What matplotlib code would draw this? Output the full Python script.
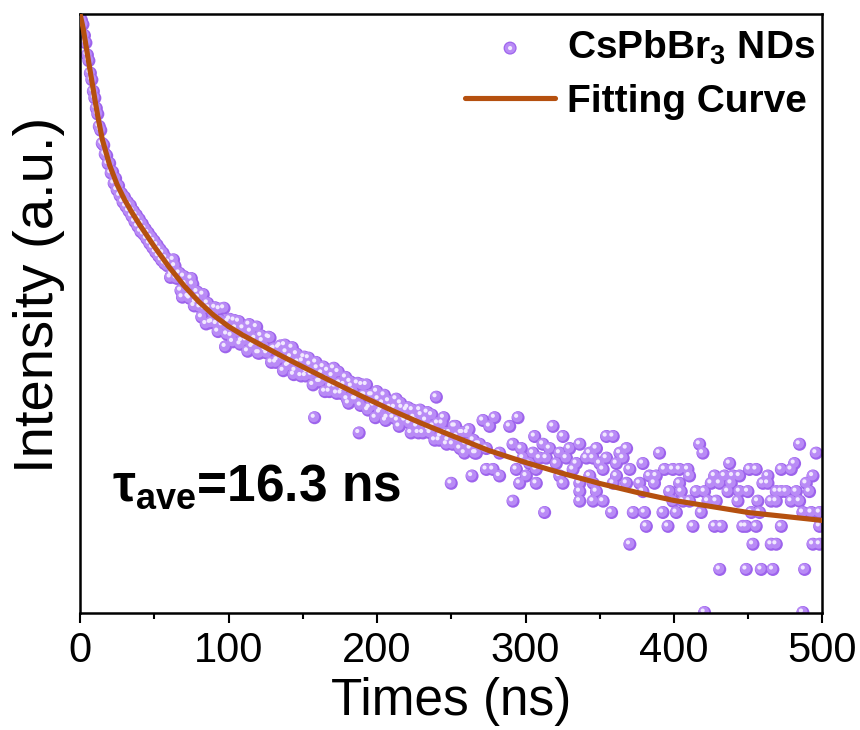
import matplotlib
matplotlib.use("Agg")
import matplotlib.pyplot as plt
from matplotlib.transforms import offset_copy
from matplotlib.legend_handler import HandlerTuple
from matplotlib.ticker import MultipleLocator, NullLocator

plt.rcParams['font.family'] = ['Liberation Sans', 'DejaVu Sans']
plt.rcParams['mathtext.fontset'] = 'custom'
plt.rcParams['mathtext.rm'] = 'Liberation Sans'
plt.rcParams['mathtext.it'] = 'Liberation Sans:italic'
plt.rcParams['mathtext.bf'] = 'Liberation Sans:bold'

# ---------------- data ----------------
# early decay, 1 ns channels
t_early = [0, 1, 2, 3, 4, 5, 6, 7, 8, 9, 10, 11, 12, 13, 14, 15, 16, 17, 18, 19,
           20, 21, 22, 23, 24, 25, 26, 27, 28, 29, 30, 31, 32, 33, 34, 35, 36, 37, 38, 39,
           40, 41, 42, 43, 44, 45, 46, 47, 48, 49, 50, 51, 52, 53, 54, 55, 56, 57, 58, 59]
n_early = [15200, 13800, 12900, 10800, 9600, 7900, 7200, 5900, 5300, 4400,
           3950, 3350, 3050, 2500, 2350, 1900, 1850, 1600, 1560, 1370,
           1380, 1180, 1200, 1000, 1080, 900, 960, 820, 850, 740,
           800, 690, 740, 640, 700, 590, 640, 540, 600, 500,
           560, 460, 520, 440, 480, 410, 450, 380, 420, 355,
           395, 330, 370, 310, 345, 290, 325, 275, 300, 265]

# middle part, even channels
t_mid = [60, 62, 64, 66, 68, 70, 72, 74, 76, 78, 80, 82, 84, 86, 88, 90, 92, 94, 96, 98,
         100, 102, 104, 106, 108, 110, 112, 114, 116, 118, 120, 122, 124, 126, 128, 130,
         132, 134, 136, 138, 140, 142, 144, 146, 148, 150, 152, 154, 156, 158, 160, 162,
         164, 166, 168, 170, 172, 174, 176, 178, 180, 182, 184, 186, 188, 190, 192, 194,
         196, 198, 200, 202, 204, 206, 208, 210, 212, 214, 216, 218, 220, 222, 224, 226,
         228, 230, 232, 234, 236, 238, 240, 242, 244, 246, 248, 250, 252, 254, 256, 258,
         260, 262, 264, 266, 268]
n_mid = [280, 231, 264, 217, 178, 223, 188, 157, 197, 147, 159, 116, 133, 145, 106, 121,
         104, 132, 102, 72, 108, 86, 110, 91, 75, 97, 80, 103, 72, 82, 65, 86, 72, 65, 83, 69,
         56, 71, 60, 74, 53, 61, 46, 64, 53, 57, 45, 60, 46, 23, 51, 41, 52, 43, 35, 45,
         38, 48, 34, 39, 31, 41, 35, 31, 18, 39, 33, 26, 33, 28, 35, 25, 29, 22, 30, 25,
         27, 22, 29, 23, 26, 21, 26, 22, 18, 24, 20, 25, 18, 20, 32, 16, 21, 18, 16, 8,
         20, 17, 14, 18, 15, 19, 9, 13, 15]

# middle part, odd channels
t_mid2 = [61, 63, 65, 67, 69, 71, 73, 75, 77, 79, 81, 83, 85, 87, 89, 91, 93, 95, 97, 99,
          101, 103, 105, 107, 109, 111, 113, 115, 117, 119, 121, 123, 125, 127, 129, 131,
          133, 135, 137, 139, 141, 143, 145, 147, 149, 151, 153, 155, 157, 159, 161, 163,
          165, 167, 169, 171, 173, 175, 177, 179, 181, 183, 185, 187, 189, 191, 193, 195,
          197, 199, 201, 203, 205, 207, 209, 211, 213, 215, 217, 219, 221, 223, 225, 227,
          229, 231, 233, 235, 237, 239, 241, 243, 245, 247, 249, 251, 253, 255, 257, 259,
          261, 263, 265, 267]
n_mid2 = [220, 292, 217, 235, 160, 198, 161, 216, 139, 174, 136, 167, 104, 134, 107, 135,
          92, 109, 134, 88, 112, 78, 97, 108, 79, 85, 67, 92, 74, 99, 65, 79, 68, 84, 56, 70,
          58, 73, 49, 66, 54, 71, 49, 56, 45, 61, 48, 54, 39, 56, 41, 47, 35, 49, 38, 51,
          34, 40, 36, 44, 29, 38, 31, 40, 28, 33, 39, 27, 33, 23, 31, 26, 33, 23, 27, 23,
          31, 20, 27, 22, 27, 18, 23, 20, 26, 18, 22, 19, 24, 16, 21, 17, 23, 15, 18, 15,
          20, 16, 18, 13, 18, 14, 16, 13]

# tail, points read individually
t_tail = [271.4, 275.9, 279.3, 289.4, 295.0, 306.2, 318.6, 325.3, 354.6, 359.1,
          269.2, 273.7, 282.6, 291.6, 297.2, 305.1, 311.8, 316.3, 323.1, 329.8,
          336.6, 343.3, 347.8, 363.6, 368.1,
          298.4, 302.8, 309.6, 314.1, 320.8, 327.6, 334.3, 341.1, 345.6, 350.1,
          354.6, 361.3, 365.8,
          273.7, 278.2, 282.6, 293.9, 300.6, 307.3, 323.1, 332.1, 343.3, 352.3,
          361.3, 370.3,
          296.1, 307.3, 325.3, 336.6, 345.6, 359.1, 368.1,
          336.6, 347.8, 291.6, 336.6, 345.6, 352.3, 312.9, 358.0, 372.6, 370.3,
          417.3, 484.6,
          390.3, 419.5, 495.8,
          379.1, 437.5, 481.2,
          393.7, 399.3, 403.8, 409.4, 450.9, 455.4, 472.3, 479.0,
          383.6, 388.1, 410.5, 427.4, 434.1, 439.7, 444.2, 463.3, 493.6,
          376.9, 386.9, 403.8, 425.1, 430.8, 438.6, 459.9, 463.3, 489.1,
          379.1, 397.1, 404.9, 415.0, 420.6, 436.4, 444.2, 449.8, 468.9, 472.3,
          475.6, 482.4, 491.3,
          399.3, 406.1, 410.5, 422.9, 428.5, 443.1, 456.5, 465.5, 468.9, 479.0, 484.6,
          380.2, 392.6, 401.6, 418.4, 452.1, 457.7, 486.8, 492.5, 498.1,
          381.4, 396.0, 412.8, 427.4, 431.9, 446.4, 448.7, 455.4, 472.3, 498.1,
          453.2, 465.5, 468.9, 493.6, 498.1,
          430.8, 448.7, 458.8, 466.6, 488.0,
          420.6, 486.8]
n_tail = [22, 20, 23, 20, 23, 17, 20, 17, 17, 17,
          15, 14, 13, 15, 14, 13, 15, 14, 13, 14,
          15, 13, 14, 13, 14,
          12, 11, 12, 12, 11, 12, 11, 12, 12, 11,
          12, 11, 12,
          10, 10, 9, 10, 9, 10, 9, 10, 9, 10,
          9, 10,
          8, 8, 8, 8, 8, 8, 8,
          7, 7, 6, 6, 6, 6, 5, 5, 5, 3,
          15, 15,
          13, 13, 13,
          11, 11, 11,
          10, 10, 10, 10, 10, 10, 10, 10,
          9, 9, 9, 9, 9, 9, 9, 9, 9,
          8, 8, 8, 8, 8, 8, 8, 8, 8,
          7, 7, 7, 7, 7, 7, 7, 7, 7, 7,
          7, 7, 7,
          6, 6, 6, 6, 6, 6, 6, 6, 6, 6, 6,
          5, 5, 5, 5, 5, 5, 5, 5, 5,
          4, 4, 4, 4, 4, 4, 4, 4, 4, 4,
          3, 3, 3, 3, 3,
          2, 2, 2, 2, 2,
          1, 1]

# fitting curve
fit_t = [0, 2, 4, 6, 8, 10, 12, 15, 20, 25, 30, 35, 40, 50, 60, 70, 80, 90, 100, 110,
         120, 135, 150, 170, 190, 210, 230, 250, 275, 300, 325, 350, 375, 400, 425, 450,
         475, 500]
fit_n = [15320, 12330, 9230, 6900, 5170, 3870, 2940, 2030, 1336, 979, 769, 625, 517,
         362, 260, 193, 149, 119.7, 100, 86.5, 76.0, 62.7, 52.2, 41.0, 32.4, 25.9, 21.0,
         17.3, 13.6, 11.2, 9.38, 7.98, 6.91, 6.07, 5.51, 5.00, 4.69, 4.40]

x_ticks = [0, 100, 200, 300, 400, 500]
x_label = 'Times (ns)'
y_label = 'Intensity (a.u.)'
legend_labels = ['CsPbBr$_{\\mathbf{3}}$ NDs', 'Fitting Curve']
annotation = '\u03c4$_{\\mathbf{ave}}$=16.3 ns'

t_all = t_early + t_mid + t_mid2 + t_tail
n_all = n_early + n_mid + n_mid2 + n_tail

# ---------------- figure ----------------
fig = plt.figure(figsize=(8.6, 7.3), dpi=100)
W, H = 860, 730
left, right, top, bottom = 80, 822.5, 13.5, 612.5
ax = fig.add_axes([left / W, (H - bottom) / H, (right - left) / W, (bottom - top) / H])

ax.set_yscale('log')
ax.set_xlim(0, 500)
ax.set_ylim(1, 15400)

sc1 = ax.scatter(t_all, n_all, s=88, c='#9d63ec', edgecolors='none', zorder=2)
sc2 = ax.scatter(t_all, n_all, s=58, c='#b98bf6', edgecolors='none', zorder=2.1,
                 transform=offset_copy(ax.transData, fig=fig, x=-0.6, y=0.6, units='points'))
sc3 = ax.scatter(t_all, n_all, s=9, c='#f1e8ff', edgecolors='none', zorder=2.2,
                 transform=offset_copy(ax.transData, fig=fig, x=-1.4, y=1.4, units='points'))

line, = ax.plot(fit_t, fit_n, color='#b5500f', lw=3.7, zorder=3, solid_capstyle='round')

# axes styling
for sp in ax.spines.values():
    sp.set_linewidth(1.8)
ax.yaxis.set_major_locator(NullLocator())
ax.yaxis.set_minor_locator(NullLocator())
ax.set_xticks(x_ticks)
ax.xaxis.set_minor_locator(MultipleLocator(50))
ax.tick_params(axis='x', which='major', direction='out', length=7.5, width=1.5,
               labelsize=30, pad=6)
ax.tick_params(axis='x', which='minor', direction='out', length=4, width=1.5)
ax.set_xlabel(x_label, fontsize=37, labelpad=4)
ax.set_ylabel(y_label, fontsize=40.5)
ax.yaxis.set_label_coords(-0.020, 0.53)

leg = ax.legend([(sc1, sc2, sc3), line], legend_labels,
                handler_map={tuple: HandlerTuple(ndivide=1, pad=0)},
                scatterpoints=1,
                loc='upper right', bbox_to_anchor=(1.01, 1.0), frameon=False,
                prop={'size': 28, 'weight': 'bold'}, handlelength=2.33,
                handletextpad=0.3, labelspacing=0.45, borderaxespad=0.18,
                borderpad=0.2)

ax.text(0.043, 0.187, annotation, transform=ax.transAxes, fontsize=37,
        fontweight='bold', ha='left', va='baseline')

fig.savefig('out.png', dpi=100)
